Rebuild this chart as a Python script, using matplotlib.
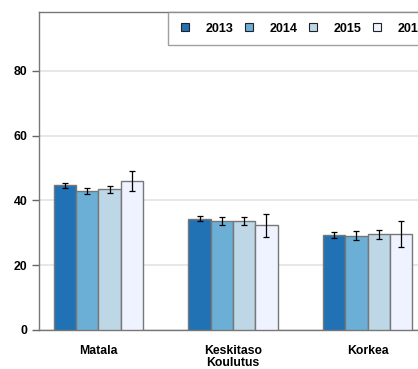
import matplotlib
matplotlib.use("Agg")
import matplotlib.pyplot as plt
import numpy as np
from matplotlib.lines import Line2D

categories = ["Matala", "Keskitaso", "Korkea"]
years = ["2013", "2014", "2015", "2016"]
values = {
    "2013": [44.7, 34.4, 29.3],
    "2014": [43.0, 33.6, 29.1],
    "2015": [43.5, 33.7, 29.6],
    "2016": [46.1, 32.3, 29.6],
}
errors = {
    "2013": [0.7, 0.8, 1.0],
    "2014": [1.0, 1.3, 1.45],
    "2015": [1.1, 1.3, 1.4],
    "2016": [3.1, 3.6, 4.0],
}
colors = ["#2171b5", "#6baed6", "#bdd7e7", "#eff3ff"]
xlabel = "Koulutus"

plt.rcParams['font.family'] = ['Liberation Sans', 'DejaVu Sans']
fig = plt.figure(figsize=(4.18, 3.69), dpi=100)
ax = fig.add_axes([39/418, 1-330/369, 388/418, (330-12)/369])

x = np.arange(len(categories))
bw = 22.3/134.5
for i, y in enumerate(years):
    pos = x + (i - 1.5) * bw
    ax.bar(pos, values[y], width=bw, color=colors[i], edgecolor="#777777", linewidth=1.0, zorder=3)
    ax.errorbar(pos, values[y], yerr=errors[y], fmt="none", ecolor="black", elinewidth=0.9,
                capsize=2, capthick=0.9, zorder=4)

ax.set_xlim(-0.442, 2.442)
ax.set_ylim(0, 98.2)
ax.set_yticks([0, 20, 40, 60, 80])
ax.yaxis.grid(True, color="#e3e3e3", linewidth=1.2, zorder=0)
ax.set_axisbelow(True)
ax.set_xticks(x)
ax.set_xticklabels(categories, fontsize=8.8, fontweight="bold")
ax.tick_params(axis="x", length=0, pad=11)
ax.tick_params(axis="y", length=5, width=1, color="#666666", labelsize=8.8, pad=3.5)
for lbl in ax.get_yticklabels():
    lbl.set_fontweight("bold")
for s in ax.spines.values():
    s.set_color("#777777")
    s.set_linewidth(1.0)
ax.text(x[1], -27/318, xlabel, transform=ax.get_xaxis_transform(), ha="center", va="top",
        fontsize=8.8, fontweight="bold")

handles = [Line2D([], [], marker="s", linestyle="none", markersize=6, markerfacecolor=c,
                  markeredgecolor="#222222", markeredgewidth=0.8) for c in colors]
leg = fig.legend(handles, years, loc="upper left", bbox_to_anchor=(168/418, 1-12/369), ncol=4,
                 frameon=True, fancybox=False, edgecolor="#888888", borderpad=0.85,
                 borderaxespad=0, handlelength=1.0, handletextpad=1.15, columnspacing=0.75,
                 prop={"weight": "bold", "size": 9})
leg.get_frame().set_linewidth(1.0)

fig.savefig("out.png", dpi=100)
